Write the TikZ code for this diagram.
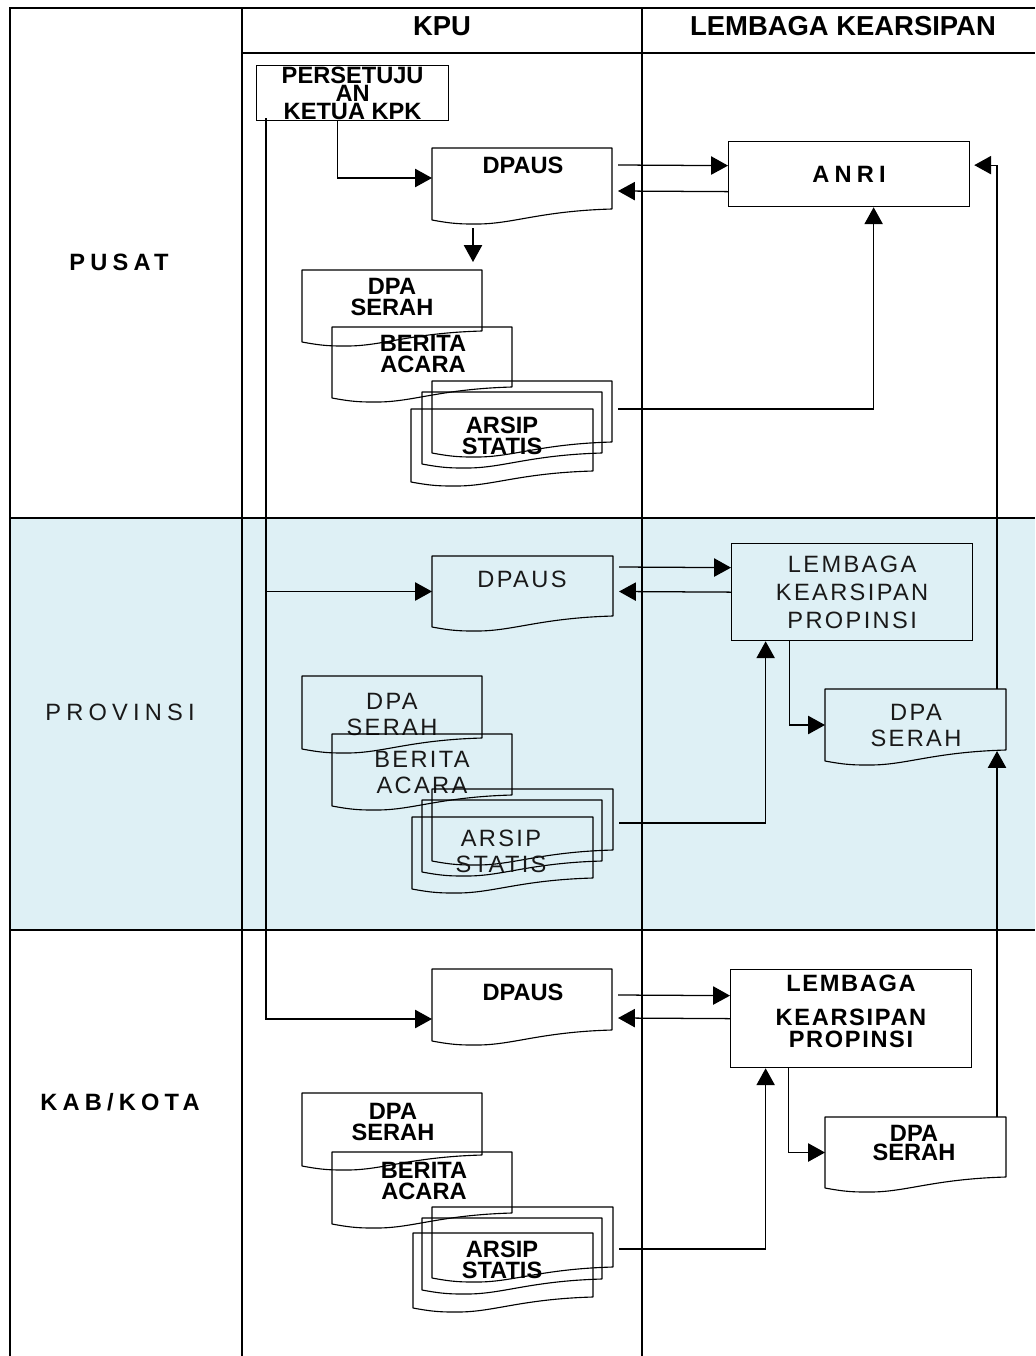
\documentclass[tikz,border=0pt]{standalone}
\usepackage{fontspec}
\setmainfont{Liberation Sans}
\newfontfamily\spaced[LetterSpace=22]{Liberation Sans}
\newfontfamily\slight[LetterSpace=7]{Liberation Sans}
\newfontfamily\provfont[LetterSpace=10]{Liberation Sans}
\usetikzlibrary{arrows.meta,calc}

\def\px{0.025cm}
\definecolor{bandblue}{RGB}{222,240,245}

\tikzset{
  box/.style={draw, line width=0.9pt, inner sep=0pt, anchor=north west},
  docarea/.style={inner sep=0pt, outer sep=0pt, anchor=north west},
  docline/.style={line width=0.8pt, line join=round},
  txt/.style={font=\fontsize{16.8}{15}\selectfont\bfseries, align=center, inner sep=0pt},
  provtxt/.style={font=\fontsize{16.8}{18.5}\selectfont\provfont, align=center, inner sep=0pt, text=black!90},
  arr/.style={line width=0.9pt, -{Triangle[length=12pt,width=13pt]}},
  grid/.style={line width=1.4pt},
}

% document shape: name, left, top, right, bottom (left side)
\newcommand{\docbox}[5]{%
  \node[docarea, minimum width={(#4-#2)*\px}, minimum height={(#5-#3)*\px}] (#1) at (#2,#3) {};
  \draw[docline] ($(#1.south east)+(0,-11)$) -- (#1.north east) -- (#1.north west) -- (#1.south west)
    .. controls ($(#1.south west)!0.12!(#1.south east)+(0,4)$) and ($(#1.south west)!0.16!(#1.south east)+(0,4)$) .. ($(#1.south west)!0.25!(#1.south east)+(0,4)$)
    .. controls ($(#1.south west)!0.45!(#1.south east)+(0,4)$) and ($(#1.south west)!0.6!(#1.south east)+(0,-9)$) .. ($(#1.south east)+(0,-11)$);
}

\begin{document}
\begin{tikzpicture}[x=0.025cm, y=-0.025cm]
  \useasboundingbox (0,0) rectangle (1035,1356);
  \fill[bandblue] (10,518) rectangle (1035,930);

  % table
  \draw[grid] (1035,8) -- (10,8) -- (10,1356);
  \draw[grid] (242,8) -- (242,1356);
  \draw[grid] (642,8) -- (642,1356);
  \draw[grid] (242,53) -- (1035,53);
  \draw[grid] (10,518) -- (1035,518);
  \draw[grid] (10,930) -- (1035,930);

  \node[font=\fontsize{19.5}{19.5}\selectfont\bfseries] (hkpu) at (442,26) {KPU};
  \node[font=\fontsize{19.5}{19.5}\selectfont\bfseries] (hlk) at (843,26) {LEMBAGA KEARSIPAN};

  \node[txt, font=\fontsize{16.8}{15}\selectfont\spaced\bfseries] (pusat) at (119,262) {PUSAT};
  \node[provtxt, font=\fontsize{16.8}{15}\selectfont\spaced] (prov) at (120,712) {PROVINSI};
  \node[txt, font=\fontsize{16.8}{15}\selectfont\spaced\bfseries] (kab) at (120,1102) {KAB/KOTA};

  % pusat
  \node[box, txt, font=\fontsize{16.8}{11.2}\selectfont\bfseries, minimum width=192*\px, minimum height=55*\px] (pers) at (256,65) {PERSETUJU\\AN\\KETUA KPK};
  \node[box, txt, font=\fontsize{16.8}{15}\selectfont\spaced\bfseries, minimum width=241*\px, minimum height=65*\px] (anri) at (728,141) {ANRI};
  \docbox{dpaus1}{432}{148}{612}{220}
  \node[txt] (dpaus1-t) at (523,165) {DPAUS};
  \docbox{serah1}{302}{270}{482}{342}
  \node[txt] (serah1-t) at (392,297) {DPA\\SERAH};
  \docbox{berita1}{332}{327}{512}{398}
  \node[txt] (berita1-t) at (423,354) {BERITA\\ACARA};
  \docbox{arsip1a}{432}{381}{612}{453}
  \docbox{arsip1b}{422}{392}{602}{464}
  \docbox{arsip1c}{411}{409}{593}{482}
  \node[txt] (arsip1-t) at (502,436) {ARSIP\\STATIS};

  % provinsi
  \docbox{dpaus2}{432}{556}{613}{627}
  \node[provtxt] (dpaus2-t) at (522,579) {DPAUS};
  \docbox{serah2}{302}{676}{482}{749}
  \node[provtxt] (serah2-t) at (392,714) {DPA\\SERAH};
  \docbox{berita2}{332}{734}{512}{806}
  \node[provtxt] (berita2-t) at (422,772) {BERITA\\ACARA};
  \docbox{arsip2a}{432}{789}{613}{861}
  \docbox{arsip2b}{422}{800}{602}{872}
  \docbox{arsip2c}{412}{817}{593}{889}
  \node[provtxt] (arsip2-t) at (501,851) {ARSIP\\STATIS};
  \node[box, provtxt, font=\fontsize{16.8}{20}\selectfont\provfont, minimum width=241*\px, minimum height=97*\px] (lkp2) at (731,543) {LEMBAGA\\KEARSIPAN\\PROPINSI};
  \docbox{serah2r}{825}{689}{1006}{761}
  \node[provtxt] (serah2r-t) at (916,725) {DPA\\SERAH};

  % kab/kota
  \docbox{dpaus3}{432}{969}{612}{1041}
  \node[txt] (dpaus3-t) at (523,992) {DPAUS};
  \docbox{serah3}{302}{1093}{482}{1166}
  \node[txt] (serah3-t) at (393,1122) {DPA\\SERAH};
  \docbox{berita3}{332}{1152}{512}{1224}
  \node[txt] (berita3-t) at (424,1181) {BERITA\\ACARA};
  \docbox{arsip3a}{432}{1207}{613}{1278}
  \docbox{arsip3b}{422}{1218}{602}{1290}
  \docbox{arsip3c}{413}{1233}{593}{1308}
  \node[txt] (arsip3-t) at (502,1260) {ARSIP\\STATIS};
  \node[box, minimum width=241*\px, minimum height=98*\px] (lkp3) at (730,969) {};
  \node[txt, font=\fontsize{16.8}{15.6}\selectfont\slight\bfseries] (lkp3-t) at (851,1011) {LEMBAGA\\[8.6pt]KEARSIPAN\\PROPINSI};
  \docbox{serah3r}{825}{1117}{1006}{1188}
  \node[txt, font=\fontsize{16.8}{13.5}\selectfont\bfseries] (serah3r-t) at (914,1143) {DPA\\SERAH};

  % connectors
  \coordinate (trunk) at ($(pers.south west)+(10,-3)$);
  \draw[arr] ($(pers.south)+(-15,0)$) |- ($(dpaus1.west)+(0,-6)$);
  \draw[arr] (trunk) |- ($(dpaus3.west)+(0,14)$);
  \draw[arr] (trunk |- dpaus2.west) -- (dpaus2.west);
  \draw[arr] ($(dpaus1.south)+(-49,8)$) -- ($(serah1.north)+(81,-8)$);
  \draw[arr] ($(dpaus1.east)+(6,-19)$) -- ($(anri.west)+(0,-8.5)$);
  \draw[arr] ($(anri.west)+(0,17.5)$) -- ($(dpaus1.east)+(6,7)$);
  \draw[arr] ($(arsip1a.east)+(6,-8)$) -| ($(anri.south)+(24.5,0)$);
  \draw[arr] ($(serah2r.north east)+(-9,0)$) |- ($(anri.east)+(4,-9)$);

  \draw[arr] ($(dpaus2.east)+(6,-24.5)$) -- ($(lkp2.west)+(0,-24.5)$);
  \draw[arr] (lkp2.west) -- ($(dpaus2.east)+(6,0)$);
  \draw[arr] ($(arsip2a.east)+(6,-2)$) -| ($(lkp2.south)+(-86.5,0)$);
  \draw[arr] ($(lkp2.south)+(-62.5,0)$) |- (serah2r.west);
  \draw[arr] ($(serah3r.north east)+(-9,0)$) -- ($(serah2r.south east)+(-9,-10)$);

  \draw[arr] ($(dpaus3.east)+(6,-10)$) -- ($(lkp3.west)+(0,-23)$);
  \draw[arr] (lkp3.west) -- ($(dpaus3.east)+(6,13)$);
  \draw[arr] ($(arsip3a.east)+(6,6.5)$) -| ($(lkp3.south)+(-85.5,0)$);
  \draw[arr] ($(lkp3.south)+(-62.5,0)$) |- (serah3r.west);
\end{tikzpicture}
\end{document}
